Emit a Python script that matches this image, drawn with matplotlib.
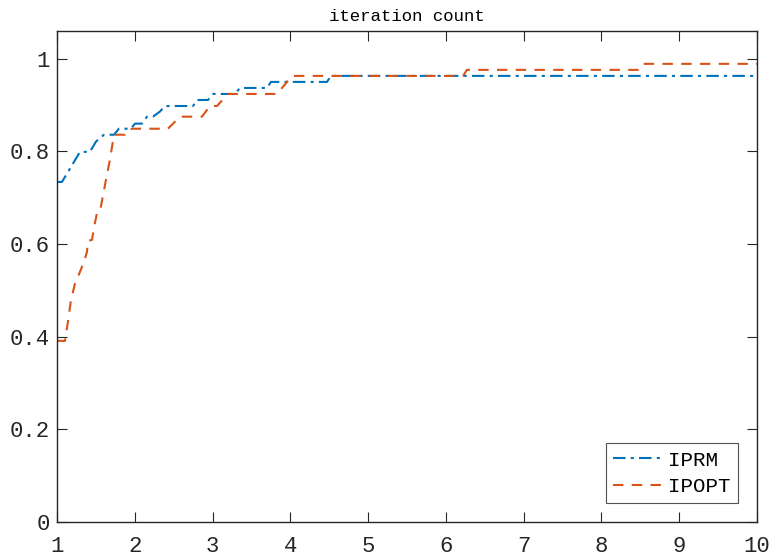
import matplotlib
matplotlib.use("Agg")
import matplotlib.pyplot as plt

# IPRM profile (tau, rho)
iprm_x = [1.0, 1.064, 1.296, 1.424, 1.501, 1.604, 1.733, 1.797, 1.951, 2.003, 2.093,
          2.157, 2.234, 2.324, 2.389, 2.749, 2.8, 2.941, 3.006, 3.288, 3.353, 3.7,
          3.751, 4.471, 4.523, 10.0]
iprm_y = [0.734, 0.734, 0.799, 0.799, 0.821, 0.836, 0.836, 0.849, 0.849, 0.860, 0.860,
          0.875, 0.875, 0.886, 0.898, 0.898, 0.911, 0.911, 0.924, 0.924, 0.937, 0.937,
          0.950, 0.950, 0.963, 0.963]

# IPOPT profile (tau, rho)
ipopt_x = [1.0, 1.103, 1.141, 1.18, 1.231, 1.296, 1.347, 1.386, 1.399, 1.45, 1.489,
           1.514, 1.553, 1.591, 1.63, 1.681, 1.733, 1.874, 1.913, 1.977, 2.427, 2.581,
           2.864, 2.967, 3.057, 3.199, 3.829, 4.021, 6.22, 6.271, 8.47, 8.521, 10.0]
ipopt_y = [0.391, 0.391, 0.432, 0.479, 0.514, 0.540, 0.562, 0.583, 0.607, 0.609, 0.646,
           0.667, 0.670, 0.704, 0.739, 0.782, 0.836, 0.836, 0.847, 0.849, 0.849, 0.875,
           0.875, 0.898, 0.898, 0.924, 0.924, 0.963, 0.963, 0.976, 0.976, 0.989, 0.989]

x_ticks = [1, 2, 3, 4, 5, 6, 7, 8, 9, 10]
y_ticks = [0, 0.2, 0.4, 0.6, 0.8, 1]
y_tick_labels = ["0", "0.2", "0.4", "0.6", "0.8", "1"]
labels = ["IPRM", "IPOPT"]
title = "iteration count"

plt.rcParams['font.family'] = ['Liberation Mono', 'DejaVu Sans Mono']

fig = plt.figure(figsize=(7.75, 5.6), dpi=100)
ax = fig.add_axes([0.0735, 0.0679, 0.9033, 0.8768])

ax.plot(iprm_x, iprm_y, linestyle=(0, (6, 2.5, 1.5, 2.5)), color='#0072BD', lw=1.5, label=labels[0])
ax.plot(ipopt_x, ipopt_y, linestyle=(0, (5, 4)), color='#D95319', lw=1.5, label=labels[1])

ax.set_xlim(1, 10)
ax.set_ylim(0, 1.06)
ax.set_xticks(x_ticks)
ax.set_xticklabels([str(t) for t in x_ticks])
ax.set_yticks(y_ticks)
ax.set_yticklabels(y_tick_labels)

axcol = '#262626'
for s in ax.spines.values():
    s.set_color(axcol)
    s.set_linewidth(1.0)
ax.tick_params(direction='in', length=7, width=0.8, top=True, right=True,
               colors=axcol, labelsize=16, labelcolor='#262626')
ax.tick_params(axis='x', pad=10)
ax.tick_params(axis='y', pad=5)

ax.set_title(title, fontsize=12.5, color='black', pad=7)

leg = ax.legend(loc='lower right', fontsize=15, frameon=True, fancybox=False,
                edgecolor=axcol, handlelength=2.3, borderaxespad=0.9,
                borderpad=0.35, labelspacing=0.35, handletextpad=0.35)
leg.get_frame().set_linewidth(0.8)

fig.savefig("out.png", dpi=100)
